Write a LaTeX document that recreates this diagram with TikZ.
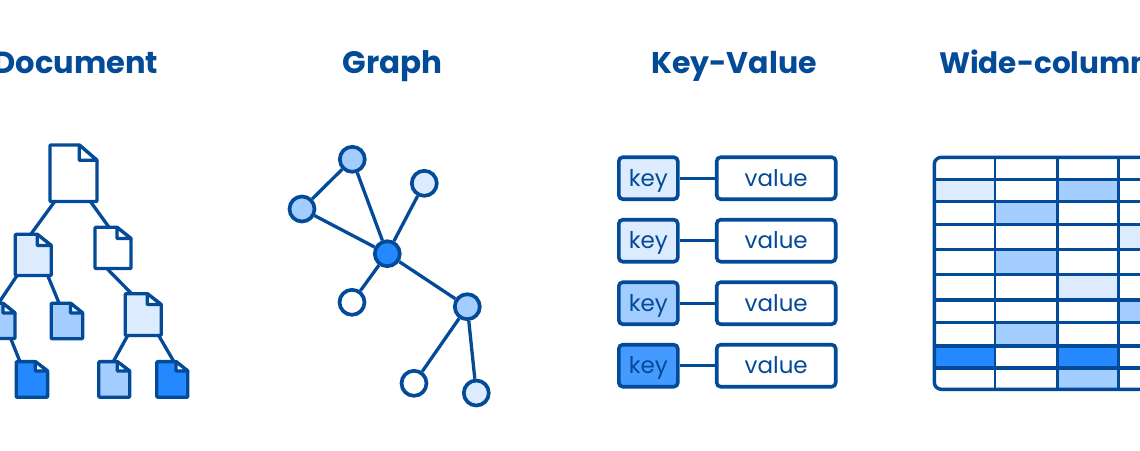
\documentclass[tikz,border=0pt]{standalone}
\usepackage{fontspec}
\setmainfont{Poppins}
\usetikzlibrary{calc}
\definecolor{ink}{HTML}{034A98}
\definecolor{lite}{HTML}{DCEBFE}
\definecolor{midb}{HTML}{A3CCFF}
\definecolor{deep}{HTML}{2488FF}
\tikzset{
  x=1pt,y=-1pt,
  title/.style={text=ink,font=\fontsize{#1}{30}\selectfont\bfseries,inner sep=0pt},
  link/.style={draw=ink,line width=3.3pt},
  gnode/.style={circle,draw=ink,line width=3.7pt,minimum size=25pt,inner sep=0pt},
  kbox/.style={draw=ink,line width=3.6pt,rounded corners=4pt,minimum height=42pt,minimum width=59pt,inner sep=0pt,text=ink,text height=16.5pt,text depth=0pt,font=\fontsize{23}{23}\selectfont},
  vbox/.style={kbox,minimum width=119pt,fill=white},
  dframe/.style={inner sep=0pt,outer sep=0pt},
  cell/.style={fill=#1,draw=none},
  grid/.style={draw=ink,line width=3.4pt},
}
% \docu{name}{left}{top}{right}{bottom}{fold x}{fold y}{fill}
\newcommand{\docu}[8]{%
  \node[dframe,minimum width={(#4-#2)*1pt},minimum height={(#5-#3)*1pt},anchor=north west] (#1) at (#2,#3) {};
  \draw[draw=ink,fill=#8,line width=3.3pt,line join=round,rounded corners=0.8pt]
    (#2,#3) -- (#6,#3) -- (#4,#7) -- (#4,#5) -- (#2,#5) -- cycle;
  \draw[draw=ink,fill=white,line width=3.3pt,line join=round]
    (#6,#3) -- (#6,#7) -- (#4,#7) -- cycle;
}
\begin{document}
\begin{tikzpicture}
\useasboundingbox (0,0) rectangle (1140,450);
\clip (0,0) rectangle (1140,450);
\fill[white] (0,0) rectangle (1140,450);

% Titles
\node[title=30.5,anchor=base east] (t1) at (158.5,73) {Document};
\node[title=31,anchor=base] (t2) at (392.5,73) {Graph};
\node[title=30,anchor=base] (t3) at (734,73) {Key-Value};
\node[title=29.5,anchor=base west] (t4) at (939,73) {Wide-column};

% Document tree
\docu{d1}{50}{145}{97}{201.5}{79.3}{160.3}{white}
\docu{d2}{15.3}{234.3}{51.3}{275.5}{37.3}{245.5}{lite}
\docu{d3}{95}{227.3}{131}{268.5}{117}{238.5}{white}
\docu{d4}{-18}{303.3}{15}{338.5}{3}{313}{midb}
\docu{d5}{51.2}{303.2}{82.7}{338.7}{70.5}{313}{midb}
\docu{d6}{125.2}{293.7}{161.2}{335.5}{147.3}{304.5}{lite}
\docu{d7}{16.2}{361.6}{47.6}{397.2}{35.3}{371}{deep}
\docu{d8}{98.8}{361.6}{129.7}{397.2}{117.3}{371}{midb}
\docu{d9}{156.8}{361.6}{187.8}{397.2}{176}{371}{deep}
\draw[link] ($(d1.south west)!.10!(d1.south east)$) -- ($(d2.north west)!.43!(d2.north east)$);
\draw[link] ($(d1.south west)!.86!(d1.south east)$) -- ($(d3.north west)!.39!(d3.north east)$);
\draw[link] ($(d3.south west)!.33!(d3.south east)$) -- ($(d6.north west)!.18!(d6.north east)$);
\draw[link] ($(d2.south west)!.05!(d2.south east)$) -- ($(d4.north west)!.50!(d4.north east)$);
\draw[link] ($(d2.south west)!.90!(d2.south east)$) -- ($(d5.north west)!.25!(d5.north east)$);
\draw[link] ($(d4.south west)!.87!(d4.south east)$) -- ($(d7.north west)!.12!(d7.north east)$);
\draw[link] ($(d6.south west)!.07!(d6.south east)$) -- ($(d8.north west)!.47!(d8.north east)$);
\draw[link] ($(d6.south west)!.93!(d6.south east)$) -- ($(d9.north west)!.55!(d9.north east)$);

% Graph
\node[gnode,fill=midb] (n1) at (352.3,159.3) {};
\node[gnode,fill=midb] (n2) at (302,209) {};
\node[gnode,fill=lite] (n3) at (424.3,183.3) {};
\node[gnode,fill=deep] (n4) at (387.3,253.7) {};
\node[gnode,fill=white] (n5) at (352,302.3) {};
\node[gnode,fill=midb] (n6) at (467.3,306.7) {};
\node[gnode,fill=white] (n7) at (414,383.3) {};
\node[gnode,fill=lite] (n8) at (476.3,393) {};
\foreach \a/\b in {n1/n2,n1/n4,n2/n4,n3/n4,n4/n5,n4/n6,n6/n7,n6/n8}
  \draw[link] (\a) -- (\b);

% Key-value rows
\foreach \i/\yy in {1/178.2,2/240.7,3/303.2,4/365.7}{
  \node[vbox] (v\i) at (776.2,\yy) {value};
}
\node[kbox,fill=lite] (k1) at (648.3,178.2) {key};
\node[kbox,fill=lite] (k2) at (648.3,240.7) {key};
\node[kbox,fill=midb] (k3) at (648.3,303.2) {key};
\node[kbox,fill=deep!85!white] (k4) at (648.3,365.7) {key};
\foreach \i in {1,2,3,4} \draw[link] (k\i) -- (v\i);

% Wide-column table
\fill[cell=lite] (934,179) rectangle (995,201);
\fill[cell=deep] (934,346) rectangle (995,368);
\fill[cell=midb] (995,201) rectangle (1057.5,225);
\fill[cell=midb] (995,249) rectangle (1057.5,275);
\fill[cell=midb] (995,322) rectangle (1057.5,346);
\fill[cell=midb] (1057.5,179) rectangle (1119,201);
\fill[cell=lite] (1057.5,275) rectangle (1119,300);
\fill[cell=deep] (1057.5,346) rectangle (1119,368);
\fill[cell=midb] (1057.5,368) rectangle (1119,389.5);
\fill[cell=lite] (1119,225) rectangle (1150,249);
\fill[cell=midb] (1119,300) rectangle (1150,322);
\foreach \yy in {179.3,201.3,224.7,249.3,274.7,300,322.3,346,368}
  \draw[grid] (934.3,\yy) -- (1150,\yy);
\foreach \xx/\w in {995/2.8pt,1057.7/3.4pt,1118.7/2.8pt}
  \draw[grid,line width=\w] (\xx,157.3) -- (\xx,389.3);
\draw[grid,rounded corners=7pt] (1160,157.3) -- (934.3,157.3) -- (934.3,389.3) -- (1160,389.3);
\end{tikzpicture}
\end{document}
